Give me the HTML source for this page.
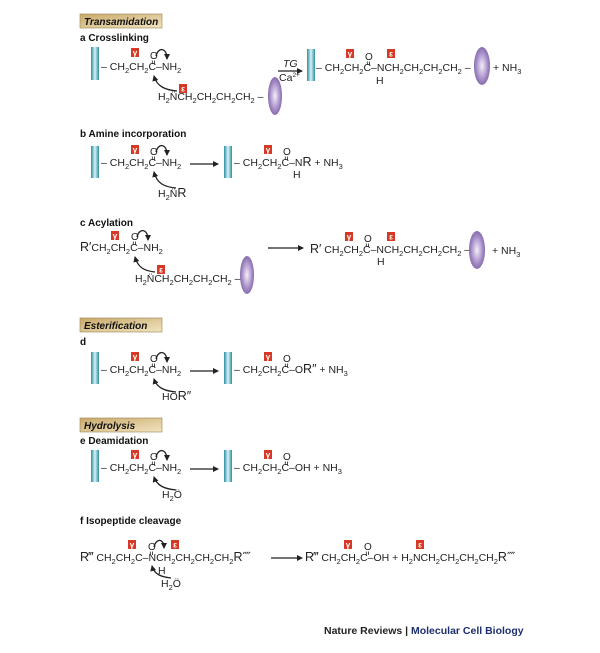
<!DOCTYPE html>
<html><head><meta charset="utf-8"><style>
html,body{margin:0;padding:0;background:#fff}
svg{display:block}
text{font-family:"Liberation Sans",sans-serif;font-size:10.5px;fill:#222}
.t{font-weight:bold;font-size:10px;fill:#111}
.h{font-weight:bold;font-style:italic;font-size:10px;fill:#111}
.o{font-size:10px}
.g{font-size:8px;fill:#fff;font-weight:bold}
.r{font-size:12.5px}
</style></head><body>
<svg width="600" height="653" viewBox="0 0 600 653" xmlns="http://www.w3.org/2000/svg">
<defs>
<linearGradient id="tl" x1="0" x2="1" y1="0" y2="0"><stop offset="0" stop-color="#2a8ea0"/><stop offset="0.5" stop-color="#d8f2f5"/><stop offset="1" stop-color="#2a8ea0"/></linearGradient>
<radialGradient id="pp" cx="0.5" cy="0.5" r="0.6"><stop offset="0" stop-color="#f4eefa"/><stop offset="0.6" stop-color="#a58cc6"/><stop offset="1" stop-color="#6e559a"/></radialGradient>
<linearGradient id="hb" x1="0" x2="1" y1="0" y2="1"><stop offset="0" stop-color="#c9a96a"/><stop offset="1" stop-color="#f1e4c0"/></linearGradient>
<marker id="ah" markerWidth="6" markerHeight="6" refX="5" refY="3" orient="auto" markerUnits="userSpaceOnUse"><path d="M0,0 L6,3 L0,6 z" fill="#222"/></marker>
<g id="gam"><rect width="8" height="9" fill="#d63a26"/><text x="4" y="7.5" text-anchor="middle" class="g">γ</text></g>
<g id="eps"><rect width="8" height="9" fill="#d63a26"/><text x="4" y="7.5" text-anchor="middle" class="g">ε</text></g>
<g id="co"><text x="0" y="0" class="o">O</text><line x1="2.3" y1="1.5" x2="2.3" y2="5" stroke="#222" stroke-width="0.8"/><line x1="4.6" y1="1.5" x2="4.6" y2="5" stroke="#222" stroke-width="0.8"/></g>
</defs>

<!-- Transamidation header -->
<rect x="80" y="14" width="82" height="14" fill="url(#hb)" stroke="#9a8250" stroke-width="0.6"/>
<text x="84" y="25" class="h">Transamidation</text>
<text x="80" y="41" class="t">a Crosslinking</text>

<!-- Row a -->
<rect x="91" y="47" width="8" height="33" fill="url(#tl)"/>
<text x="101" y="70">– CH<tspan font-size="7.5" baseline-shift="-3">2</tspan>CH<tspan font-size="7.5" baseline-shift="-3">2</tspan>C–NH<tspan font-size="7.5" baseline-shift="-3">2</tspan></text>
<use href="#gam" x="131" y="48"/>
<use href="#co" x="150" y="59"/>
<path d="M156,56 C158,47 167,47 167,59" fill="none" stroke="#222" stroke-width="1.3" marker-end="url(#ah)"/>
<text x="158" y="100">H<tspan font-size="7.5" baseline-shift="-3">2</tspan>N̈CH<tspan font-size="7.5" baseline-shift="-3">2</tspan>CH<tspan font-size="7.5" baseline-shift="-3">2</tspan>CH<tspan font-size="7.5" baseline-shift="-3">2</tspan>CH<tspan font-size="7.5" baseline-shift="-3">2</tspan> –</text>
<use href="#eps" x="179" y="84"/>
<path d="M177,91 C166,90 157,87 154,76" fill="none" stroke="#222" stroke-width="1.3" marker-end="url(#ah)"/>
<ellipse cx="275" cy="96" rx="7" ry="19" fill="url(#pp)"/>
<line x1="278" y1="71" x2="302" y2="71" stroke="#222" stroke-width="1.2" marker-end="url(#ah)"/>
<text x="283" y="67" font-style="italic" font-size="10">TG</text>
<text x="279" y="81" font-size="9.5">Ca<tspan font-size="6.5" baseline-shift="4">2+</tspan></text>
<rect x="307" y="49" width="8" height="32" fill="url(#tl)"/>
<text x="316" y="71">– CH<tspan font-size="7.5" baseline-shift="-3">2</tspan>CH<tspan font-size="7.5" baseline-shift="-3">2</tspan>C–NCH<tspan font-size="7.5" baseline-shift="-3">2</tspan>CH<tspan font-size="7.5" baseline-shift="-3">2</tspan>CH<tspan font-size="7.5" baseline-shift="-3">2</tspan>CH<tspan font-size="7.5" baseline-shift="-3">2</tspan> –</text>
<use href="#gam" x="346" y="49"/>
<use href="#co" x="365" y="60"/>
<use href="#eps" x="387" y="49"/>
<text x="376" y="84">H</text>
<ellipse cx="482" cy="66" rx="8" ry="19" fill="url(#pp)"/>
<text x="493" y="71">+ NH<tspan font-size="7.5" baseline-shift="-3">3</tspan></text>

<!-- Row b -->
<text x="80" y="137" class="t">b Amine incorporation</text>
<rect x="91" y="146" width="8" height="32" fill="url(#tl)"/>
<text x="101" y="166">– CH<tspan font-size="7.5" baseline-shift="-3">2</tspan>CH<tspan font-size="7.5" baseline-shift="-3">2</tspan>C–NH<tspan font-size="7.5" baseline-shift="-3">2</tspan></text>
<use href="#gam" x="131" y="145"/>
<use href="#co" x="150" y="155"/>
<path d="M156,152 C158,143 167,143 167,155" fill="none" stroke="#222" stroke-width="1.3" marker-end="url(#ah)"/>
<text x="158" y="197">H<tspan font-size="7.5" baseline-shift="-3">2</tspan>N̈<tspan class="r">R</tspan></text>
<path d="M176,188 C165,187 157,184 154,172" fill="none" stroke="#222" stroke-width="1.3" marker-end="url(#ah)"/>
<line x1="190" y1="164" x2="218" y2="164" stroke="#222" stroke-width="1.2" marker-end="url(#ah)"/>
<rect x="224" y="146" width="8" height="32" fill="url(#tl)"/>
<text x="234" y="166">– CH<tspan font-size="7.5" baseline-shift="-3">2</tspan>CH<tspan font-size="7.5" baseline-shift="-3">2</tspan>C–N<tspan class="r">R</tspan> + NH<tspan font-size="7.5" baseline-shift="-3">3</tspan></text>
<use href="#gam" x="264" y="145"/>
<use href="#co" x="283" y="155"/>
<text x="293" y="178">H</text>

<!-- Row c -->
<text x="80" y="226" class="t">c Acylation</text>
<text x="80" y="251"><tspan class="r">R′</tspan>CH<tspan font-size="7.5" baseline-shift="-3">2</tspan>CH<tspan font-size="7.5" baseline-shift="-3">2</tspan>C–NH<tspan font-size="7.5" baseline-shift="-3">2</tspan></text>
<use href="#gam" x="111" y="231"/>
<use href="#co" x="131" y="240"/>
<path d="M137,237 C139,228 148,228 148,240" fill="none" stroke="#222" stroke-width="1.3" marker-end="url(#ah)"/>
<text x="135" y="282">H<tspan font-size="7.5" baseline-shift="-3">2</tspan>N̈CH<tspan font-size="7.5" baseline-shift="-3">2</tspan>CH<tspan font-size="7.5" baseline-shift="-3">2</tspan>CH<tspan font-size="7.5" baseline-shift="-3">2</tspan>CH<tspan font-size="7.5" baseline-shift="-3">2</tspan> –</text>
<use href="#eps" x="157" y="265"/>
<path d="M155,272 C145,271 138,268 135,257" fill="none" stroke="#222" stroke-width="1.3" marker-end="url(#ah)"/>
<ellipse cx="247" cy="275" rx="7" ry="19" fill="url(#pp)"/>
<line x1="268" y1="248" x2="303" y2="248" stroke="#222" stroke-width="1.2" marker-end="url(#ah)"/>
<text x="310" y="253"><tspan class="r">R′</tspan> CH<tspan font-size="7.5" baseline-shift="-3">2</tspan>CH<tspan font-size="7.5" baseline-shift="-3">2</tspan>C–NCH<tspan font-size="7.5" baseline-shift="-3">2</tspan>CH<tspan font-size="7.5" baseline-shift="-3">2</tspan>CH<tspan font-size="7.5" baseline-shift="-3">2</tspan>CH<tspan font-size="7.5" baseline-shift="-3">2</tspan> –</text>
<use href="#gam" x="345" y="232"/>
<use href="#co" x="364" y="242"/>
<use href="#eps" x="387" y="232"/>
<text x="377" y="265">H</text>
<ellipse cx="477" cy="250" rx="8" ry="19" fill="url(#pp)"/>
<text x="492" y="254">+ NH<tspan font-size="7.5" baseline-shift="-3">3</tspan></text>

<!-- Esterification -->
<rect x="80" y="318" width="82" height="14" fill="url(#hb)" stroke="#9a8250" stroke-width="0.6"/>
<text x="84" y="329" class="h">Esterification</text>
<text x="80" y="345" class="t">d</text>
<rect x="91" y="352" width="8" height="32" fill="url(#tl)"/>
<text x="101" y="373">– CH<tspan font-size="7.5" baseline-shift="-3">2</tspan>CH<tspan font-size="7.5" baseline-shift="-3">2</tspan>C–NH<tspan font-size="7.5" baseline-shift="-3">2</tspan></text>
<use href="#gam" x="131" y="352"/>
<use href="#co" x="150" y="362"/>
<path d="M156,359 C158,350 167,350 167,362" fill="none" stroke="#222" stroke-width="1.3" marker-end="url(#ah)"/>
<text x="162" y="400">HÖ<tspan class="r">R″</tspan></text>
<path d="M176,392 C165,391 157,388 154,379" fill="none" stroke="#222" stroke-width="1.3" marker-end="url(#ah)"/>
<line x1="190" y1="371" x2="218" y2="371" stroke="#222" stroke-width="1.2" marker-end="url(#ah)"/>
<rect x="224" y="352" width="8" height="32" fill="url(#tl)"/>
<text x="234" y="373">– CH<tspan font-size="7.5" baseline-shift="-3">2</tspan>CH<tspan font-size="7.5" baseline-shift="-3">2</tspan>C–O<tspan class="r">R″</tspan> + NH<tspan font-size="7.5" baseline-shift="-3">3</tspan></text>
<use href="#gam" x="264" y="352"/>
<use href="#co" x="283" y="362"/>

<!-- Hydrolysis -->
<rect x="80" y="418" width="82" height="14" fill="url(#hb)" stroke="#9a8250" stroke-width="0.6"/>
<text x="84" y="429" class="h">Hydrolysis</text>
<text x="80" y="444" class="t">e Deamidation</text>
<rect x="91" y="450" width="8" height="32" fill="url(#tl)"/>
<text x="101" y="471">– CH<tspan font-size="7.5" baseline-shift="-3">2</tspan>CH<tspan font-size="7.5" baseline-shift="-3">2</tspan>C–NH<tspan font-size="7.5" baseline-shift="-3">2</tspan></text>
<use href="#gam" x="131" y="450"/>
<use href="#co" x="150" y="460"/>
<path d="M156,457 C158,448 167,448 167,460" fill="none" stroke="#222" stroke-width="1.3" marker-end="url(#ah)"/>
<text x="162" y="498">H<tspan font-size="7.5" baseline-shift="-3">2</tspan>Ö</text>
<path d="M176,490 C165,489 157,486 154,477" fill="none" stroke="#222" stroke-width="1.3" marker-end="url(#ah)"/>
<line x1="190" y1="469" x2="218" y2="469" stroke="#222" stroke-width="1.2" marker-end="url(#ah)"/>
<rect x="224" y="450" width="8" height="32" fill="url(#tl)"/>
<text x="234" y="471">– CH<tspan font-size="7.5" baseline-shift="-3">2</tspan>CH<tspan font-size="7.5" baseline-shift="-3">2</tspan>C–OH + NH<tspan font-size="7.5" baseline-shift="-3">3</tspan></text>
<use href="#gam" x="264" y="450"/>
<use href="#co" x="283" y="460"/>

<!-- Row f -->
<text x="80" y="524" class="t">f Isopeptide cleavage</text>
<text x="80" y="561"><tspan class="r">R‴</tspan> CH<tspan font-size="7.5" baseline-shift="-3">2</tspan>CH<tspan font-size="7.5" baseline-shift="-3">2</tspan>C–NCH<tspan font-size="7.5" baseline-shift="-3">2</tspan>CH<tspan font-size="7.5" baseline-shift="-3">2</tspan>CH<tspan font-size="7.5" baseline-shift="-3">2</tspan>CH<tspan font-size="7.5" baseline-shift="-3">2</tspan><tspan class="r">R⁗</tspan></text>
<use href="#gam" x="128" y="540"/>
<use href="#co" x="148" y="550"/>
<use href="#eps" x="171" y="540"/>
<path d="M154,547 C156,538 164,538 164,548" fill="none" stroke="#222" stroke-width="1.3" marker-end="url(#ah)"/>
<text x="158" y="574">H</text>
<text x="161" y="587">H<tspan font-size="7.5" baseline-shift="-3">2</tspan>Ö</text>
<path d="M171,578 C161,577 154,574 152,566" fill="none" stroke="#222" stroke-width="1.3" marker-end="url(#ah)"/>
<line x1="271" y1="558" x2="302" y2="558" stroke="#222" stroke-width="1.2" marker-end="url(#ah)"/>
<text x="305" y="561"><tspan class="r">R‴</tspan> CH<tspan font-size="7.5" baseline-shift="-3">2</tspan>CH<tspan font-size="7.5" baseline-shift="-3">2</tspan>C–OH + H<tspan font-size="7.5" baseline-shift="-3">2</tspan>NCH<tspan font-size="7.5" baseline-shift="-3">2</tspan>CH<tspan font-size="7.5" baseline-shift="-3">2</tspan>CH<tspan font-size="7.5" baseline-shift="-3">2</tspan>CH<tspan font-size="7.5" baseline-shift="-3">2</tspan><tspan class="r">R⁗</tspan></text>
<use href="#gam" x="344" y="540"/>
<use href="#co" x="364" y="550"/>
<use href="#eps" x="416" y="540"/>

<text x="324" y="634" font-weight="bold" font-size="10" fill="#111">Nature Reviews | <tspan fill="#1d2f6e">Molecular Cell Biology</tspan></text>
</svg>
</body></html>
